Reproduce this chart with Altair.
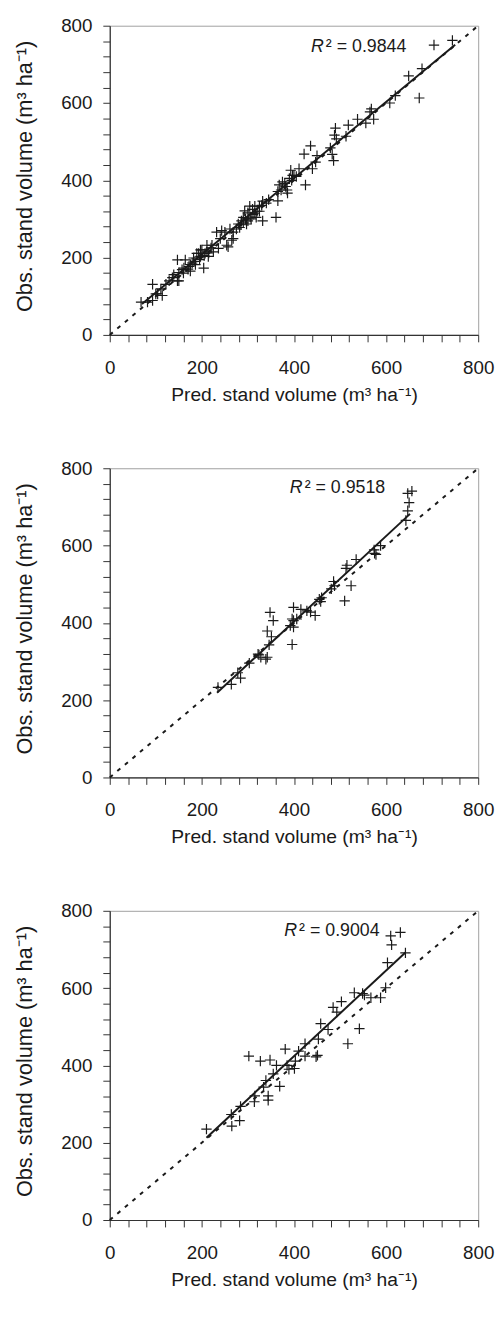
import altair as alt
import pandas as pd

# ---------------- data ----------------
# Panel 1 (R2 = 0.9844)
p1_pred = [704, 744, 678, 649, 672, 620, 608, 568, 565, 573, 538, 556, 518, 490, 488, 492, 513, 436,
           422, 450, 447, 479, 483, 486, 440, 425, 411, 393, 397, 375, 368, 382, 372, 365, 386, 361,
           340, 332, 325, 315, 304, 300, 311, 318, 332, 290, 286, 297, 279, 275, 268, 265, 250, 307,
           293, 365, 254, 400, 390, 380, 385, 395, 405, 345, 330, 310, 325, 320, 305, 295, 300, 285,
           68, 82, 93, 100, 104, 93, 114, 111, 122, 129, 136, 147, 139, 150, 157, 150, 147, 164, 161,
           172, 179, 175, 182, 186, 189, 193, 197, 200, 204, 207, 211, 214, 197, 175, 225, 232, 243,
           240, 261, 268, 236, 257, 282, 211, 222, 160, 170, 185, 195, 205, 215, 220, 290, 315]
p1_obs = [750, 762, 689, 670, 613, 619, 600, 585, 577, 558, 558, 548, 543, 535, 517, 507, 514, 489,
          468, 464, 447, 484, 467, 451, 430, 388, 430, 426, 413, 396, 388, 384, 375, 371, 367, 304,
          341, 346, 333, 333, 333, 316, 312, 304, 295, 304, 295, 287, 287, 274, 266, 245, 266, 300,
          321, 347, 232, 413, 405, 392, 375, 400, 410, 350, 335, 325, 320, 320, 305, 300, 295, 285,
          85, 85, 89, 106, 106, 131, 102, 119, 131, 140, 148, 140, 156, 161, 169, 140, 194, 194, 173,
          177, 186, 182, 199, 182, 211, 211, 203, 220, 173, 211, 215, 203, 220, 165, 215, 266, 270,
          249, 274, 249, 224, 228, 278, 232, 232, 160, 170, 190, 195, 205, 212, 225, 290, 315]

# Panel 2 (R2 = 0.9518)
p2_pred = [656, 647, 650, 647, 643, 588, 574, 578, 575, 535, 515, 513, 524, 510, 486, 481, 488, 455,
           458, 446, 428, 415, 406, 399, 396, 392, 399, 396, 348, 355, 342, 351, 346, 324, 342, 328,
           303, 278, 284, 264, 235, 436, 399, 339, 322, 460]
p2_obs = [741, 735, 711, 690, 665, 600, 589, 577, 580, 564, 549, 541, 496, 457, 507, 488, 496, 461,
          455, 419, 431, 435, 410, 440, 410, 393, 389, 344, 427, 406, 379, 364, 343, 317, 311, 311,
          296, 271, 257, 241, 233, 428, 406, 306, 319, 465]

# Panel 3 (R2 = 0.9004)
p3_pred = [610, 631, 612, 642, 603, 599, 588, 567, 553, 531, 542, 517, 503, 485, 493, 458, 474, 453,
           424, 410, 424, 448, 381, 403, 385, 401, 362, 348, 327, 302, 355, 339, 334, 369, 344, 344,
           315, 314, 284, 264, 265, 282, 210, 389, 451, 549]
p3_obs = [735, 744, 712, 691, 666, 601, 575, 575, 582, 588, 495, 456, 565, 550, 538, 508, 493, 468,
          456, 437, 424, 422, 442, 411, 400, 392, 400, 414, 411, 424, 378, 361, 344, 346, 321, 310,
          321, 306, 294, 273, 243, 257, 235, 390, 426, 586]

# fitted regression lines (end points)
fit_pred = [[70, 750], [233, 652], [210, 642]]
fit_obs = [[80, 751], [219, 682], [213, 692]]

r2_values = ["0.9844", "0.9518", "0.9004"]
r2_pred = [437, 391, 379]
r2_obs = [745, 748, 748]

ticks = list(range(0, 801, 40))
one_to_one = [0, 800]

FONT = "Liberation Sans"
INK = "#1a1a1a"
CROSS = "M-1,0L1,0M0,-1L0,1"
W, H = 373, 313


def panel(pred, obs, fp, fo, r2, rx, ry):
    pts = pd.DataFrame({"pred": pred, "obs": obs})
    diag = pd.DataFrame({"pred": one_to_one, "obs": one_to_one})
    fit = pd.DataFrame({"pred": fp, "obs": fo})
    lab = pd.DataFrame({"pred": [rx], "obs": [ry], "t": ["² = " + r2]})

    xs = alt.Scale(domain=[0, 800], nice=False, zero=True)
    ys = alt.Scale(domain=[0, 800], nice=False, zero=True)
    xax = alt.Axis(values=ticks, tickCount=len(ticks),
                   labelExpr="datum.value % 200 == 0 ? datum.label : ''",
                   title="Pred. stand volume (m³ ha⁻¹)", grid=False, tickSize=7,
                   labelPadding=17, labelFontSize=19, labelFont=FONT, labelColor=INK,
                   labelFlush=False, labelOverlap=False, labelBound=False,
                   domainColor="#333333", tickColor="#333333", domainWidth=1.2, tickWidth=1,
                   titleFont=FONT, titleFontSize=19.5, titleFontWeight="normal", titleColor=INK,
                   titleBaseline="top", titleY=51)
    yax = alt.Axis(values=ticks, tickCount=len(ticks),
                   labelExpr="datum.value % 200 == 0 ? datum.label : ''",
                   title="Obs. stand volume (m³ ha⁻¹)", grid=False, tickSize=7,
                   labelPadding=11, labelFontSize=19, labelFont=FONT, labelColor=INK,
                   labelFlush=False, labelOverlap=False, labelBound=False,
                   domainColor="#333333", tickColor="#333333", domainWidth=1.2, tickWidth=1,
                   titleFont=FONT, titleFontSize=22, titleFontWeight="normal", titleColor=INK,
                   titleAngle=270, titleAlign="center", titleBaseline="alphabetic",
                   titleX=-79, titleY=152)

    base_x = alt.X("pred:Q", scale=xs, axis=xax)
    base_y = alt.Y("obs:Q", scale=ys, axis=yax)

    d = alt.Chart(diag).mark_line(color=INK, strokeDash=[4, 6], strokeWidth=2).encode(x=base_x, y=base_y)
    f = alt.Chart(fit).mark_line(color=INK, strokeWidth=2).encode(x="pred:Q", y="obs:Q")
    p = alt.Chart(pts).mark_point(shape=CROSS, size=110, filled=False, color=INK,
                                  strokeWidth=1.2, opacity=1).encode(x="pred:Q", y="obs:Q")
    r = alt.Chart(lab).mark_text(text="R", fontStyle="italic", font=FONT, fontSize=18,
                                 align="left", baseline="middle", color=INK).encode(x="pred:Q", y="obs:Q")
    t = alt.Chart(lab).mark_text(font=FONT, fontSize=18, align="left", baseline="middle",
                                 dx=15, color=INK).encode(x="pred:Q", y="obs:Q", text="t:N")
    return alt.layer(d, f, p, r, t).properties(width=W, height=H)


chart = alt.vconcat(
    panel(p1_pred, p1_obs, fit_pred[0], fit_obs[0], r2_values[0], r2_pred[0], r2_obs[0]),
    panel(p2_pred, p2_obs, fit_pred[1], fit_obs[1], r2_values[1], r2_pred[1], r2_obs[1]),
    panel(p3_pred, p3_obs, fit_pred[2], fit_obs[2], r2_values[2], r2_pred[2], r2_obs[2]),
    spacing=55,
).properties(
    padding={"top": 0, "left": 5, "right": 0, "bottom": 0},
    background="white",
).configure_view(stroke="#a0a0a0", strokeWidth=1)

chart.save("out.html", embed_options={"renderer": "svg", "actions": False})
